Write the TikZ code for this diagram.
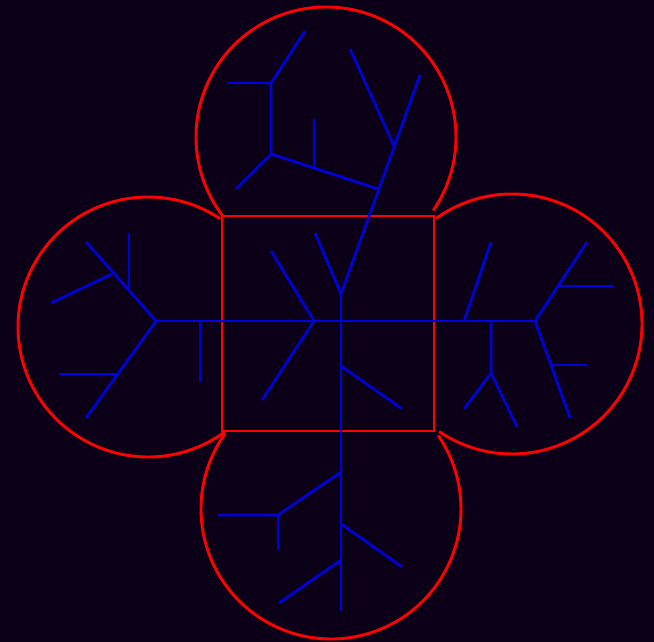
\documentclass[tikz,border=0pt]{standalone}
\usepackage{xcolor}
\definecolor{nightbg}{HTML}{0C0018}
\definecolor{rimred}{HTML}{FF0000}
\definecolor{twigblue}{HTML}{0000DD}
\tikzset{
        rim/.style = {draw=rimred, line width=2.2pt},
        twig/.style = {draw=twigblue, line width=2pt},
        sky/.style = {fill=nightbg},
}

\begin{document}
\begin{tikzpicture}[x=0.75pt, y=-0.75pt]
\fill [sky] (0,0) rectangle (654,642);
\useasboundingbox (0,0) rectangle (654,642);
\coordinate (sqtl) at (222,216);
\coordinate (sqbr) at (434,431);
\coordinate (ctop) at (326,137);
\coordinate (cleft) at (148,327);
\coordinate (cright) at (512,324);
\coordinate (cbottom) at (331,509);
\draw [rim] (sqtl) rectangle (sqbr);
\draw [rim] (ctop) ++(142.8:130) arc[start angle=142.8, end angle=394.4, radius=130];
\draw [rim] (cleft) ++(303.7:130) arc[start angle=303.7, end angle=54, radius=130];
\draw [rim] (cright) ++(234.3:130) arc[start angle=234.3, end angle=484.1, radius=130];
\draw [rim] (cbottom) ++(215.6:130) arc[start angle=215.6, end angle=-34.4, radius=130];
\coordinate (lroot) at (156,321);
\coordinate (rroot) at (535,321);
\coordinate (fork) at (341,294);
\coordinate (stem) at (341,611);
\coordinate (ntop) at (420,75);
\coordinate (nmid) at (394,146);
\coordinate (ntwig) at (350,49);
\coordinate (fleft) at (315,233);
\coordinate (knot) at (314,321);
\coordinate (kup) at (271,251);
\coordinate (kdown) at (262,400);
\coordinate (sknot) at (341,366);
\coordinate (stip) at (402,409);
\coordinate (tjoin) at (378,189);
\coordinate (ta) at (271,154);
\coordinate (tm) at (314,168);
\coordinate (tmup) at (314,119);
\coordinate (tc) at (271,83);
\coordinate (tcl) at (227,83);
\coordinate (tcr) at (305,31);
\coordinate (tdl) at (236,189);
\coordinate (lul) at (86,242);
\coordinate (lk1) at (129,291);
\coordinate (lk1up) at (129,233);
\coordinate (lk2) at (112,274);
\coordinate (lk2tip) at (51,303);
\coordinate (ldl) at (86,418);
\coordinate (lk3) at (118,374);
\coordinate (lk3tip) at (59,374);
\coordinate (lbar) at (200,321);
\coordinate (lbartip) at (200,382);
\coordinate (rk1) at (464,321);
\coordinate (rk1tip) at (491,242);
\coordinate (rk2) at (491,321);
\coordinate (rk2low) at (491,373);
\coordinate (rk2l) at (464,409);
\coordinate (rk2r) at (517,427);
\coordinate (rur) at (587,242);
\coordinate (rk3) at (559,286);
\coordinate (rk3tip) at (614,286);
\coordinate (rdr) at (570,418);
\coordinate (rk4) at (551,365);
\coordinate (rk4tip) at (587,365);
\coordinate (bk1) at (341,472);
\coordinate (bk1tip) at (278,515);
\coordinate (bk1l) at (218,515);
\coordinate (bk1d) at (278,550);
\coordinate (bk2) at (341,524);
\coordinate (bk2tip) at (402,567);
\coordinate (bk3) at (341,560);
\coordinate (bk3tip) at (279,603);
\draw [twig] (lroot) -- (rroot);
\draw [twig] (fork) -- (stem);
\draw [twig] (fork) -- (ntop);
\draw [twig] (nmid) -- (ntwig);
\draw [twig] (fork) -- (fleft);
\draw [twig] (kup) -- (knot) -- (kdown);
\draw [twig] (sknot) -- (stip);
\draw [twig] (tjoin) -- (ta);
\draw [twig] (tm) -- (tmup);
\draw [twig] (tdl) -- (ta) -- (tc) -- (tcr);
\draw [twig] (tc) -- (tcl);
\draw [twig] (lroot) -- (lul);
\draw [twig] (lk1) -- (lk1up);
\draw [twig] (lk2) -- (lk2tip);
\draw [twig] (lroot) -- (ldl);
\draw [twig] (lk3) -- (lk3tip);
\draw [twig] (lbar) -- (lbartip);
\draw [twig] (rk1) -- (rk1tip);
\draw [twig] (rk2) -- (rk2low) -- (rk2l);
\draw [twig] (rk2low) -- (rk2r);
\draw [twig] (rroot) -- (rur);
\draw [twig] (rk3) -- (rk3tip);
\draw [twig] (rroot) -- (rdr);
\draw [twig] (rk4) -- (rk4tip);
\draw [twig] (bk1) -- (bk1tip) -- (bk1l);
\draw [twig] (bk1tip) -- (bk1d);
\draw [twig] (bk2) -- (bk2tip);
\draw [twig] (bk3) -- (bk3tip);
\end{tikzpicture}
\end{document}
